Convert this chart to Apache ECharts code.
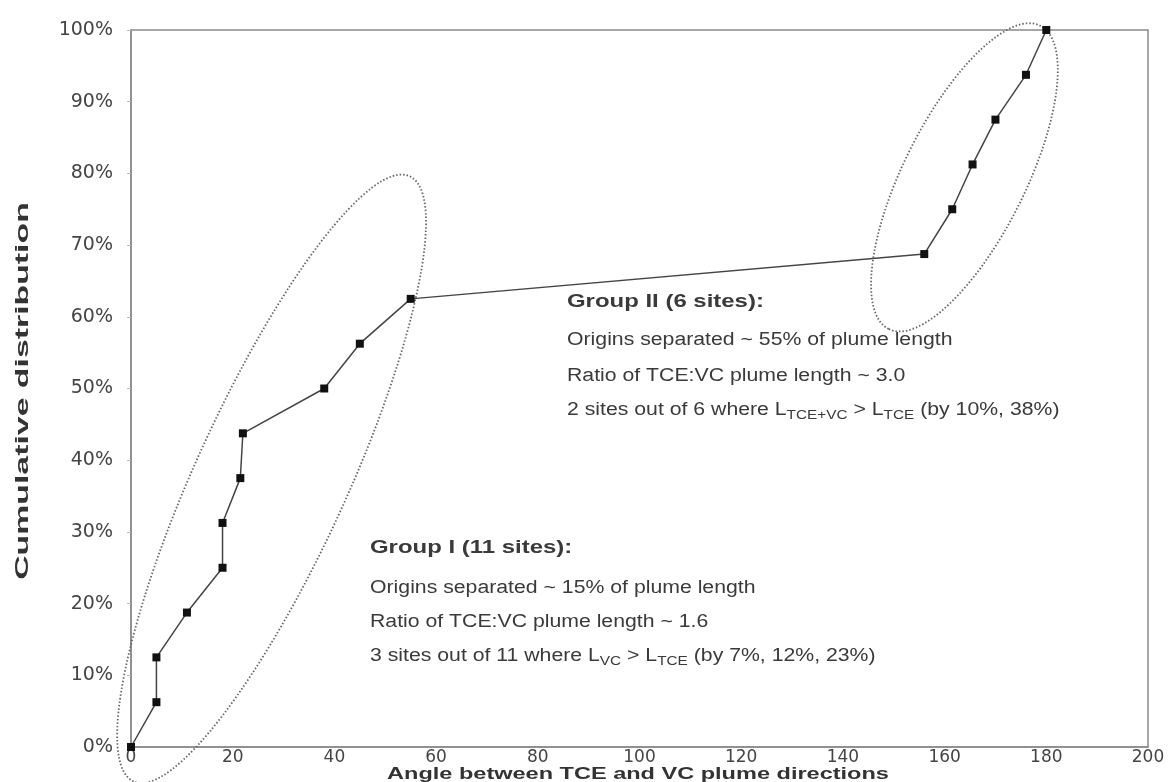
<!DOCTYPE html>
<html>
<head>
<meta charset="utf-8">
<script src="https://cdn.jsdelivr.net/npm/echarts@6/dist/echarts.min.js"></script>
<style>
html,body{margin:0;padding:0;background:#fff;}
#chart{width:1174px;height:782px;}
</style>
</head>
<body>
<div id="chart"></div>
<script>
// ---- data ----
const angles = [0, 5, 5, 11, 18, 18, 21.5, 22, 38, 45, 55, 156, 161.5, 165.5, 170, 176, 180];
const cumulative = [0, 6.25, 12.5, 18.75, 25, 31.25, 37.5, 43.75, 50, 56.25, 62.5, 68.75, 75, 81.25, 87.5, 93.75, 100];
const xTicks = [0, 20, 40, 60, 80, 100, 120, 140, 160, 180, 200];
const yTicks = [0, 10, 20, 30, 40, 50, 60, 70, 80, 90, 100];
// group ellipses: tip A (x,y), tip B (x,y) in data units
const groupITips = [0.5, -4.8, 54.8, 79.6];
const groupIITips = [149, 58.3, 178.8, 100.6];

// ---- annotation styling ----
const ellipseHalfWidth = { groupI: 76, groupII: 61 };

const points = angles.map((a, i) => [a, cumulative[i]]);

const chart = echarts.init(document.getElementById('chart'), null, { renderer: 'canvas' });

const baseFont = 'Liberation Sans, Arial, sans-serif';
const tickFont = 'DejaVu Sans, Liberation Sans, sans-serif';
const txtColor = '#3a3a3a';
const rich = {
  b: { fontSize: 18, fontFamily: baseFont, color: txtColor, lineHeight: 24 },
  s: { fontSize: 13, fontFamily: baseFont, color: txtColor, lineHeight: 13, padding: [11, 0, 0, 0] }
};
function line(x, y, text, bold) {
  return {
    type: 'text', x: x, y: y, silent: true, scaleX: bold ? 1.33 : 1.18, originX: 0, originY: 0,
    style: {
      text: text, rich: rich,
      font: (bold ? 'bold ' : '') + '18px ' + baseFont,
      fill: txtColor,
      textAlign: 'left', textVerticalAlign: 'middle'
    }
  };
}

chart.setOption({
  animation: false,
  backgroundColor: '#fff',
  grid: { left: 131, right: 26, top: 30, bottom: 35, show: true, borderColor: '#8a8a8a', borderWidth: 1.5, backgroundColor: 'transparent' },
  xAxis: {
    type: 'value', min: 0, max: 200, interval: 20,
    axisLine: { show: true, lineStyle: { color: '#8a8a8a', width: 1.5 } },
    axisTick: { show: false },
    splitLine: { show: false },
    axisLabel: { fontFamily: tickFont, fontSize: 17, color: '#444', margin: 2 }
  },
  yAxis: {
    type: 'value', min: 0, max: 100, interval: 10,
    axisLine: { show: true, lineStyle: { color: '#8a8a8a', width: 1.5 } },
    axisTick: { show: true, length: 4, lineStyle: { color: '#bbb' } },
    splitLine: { show: false },
    axisLabel: { fontFamily: tickFont, fontSize: 19, color: '#444', margin: 18, formatter: '{value}%' }
  },
  series: [
    {
      type: 'custom',
      silent: true,
      clip: false,
      z: 1,
      data: [
        groupITips.concat([ellipseHalfWidth.groupI]),
        groupIITips.concat([ellipseHalfWidth.groupII])
      ],
      encode: { x: [0, 2], y: [1, 3] },
      renderItem: function (params, api) {
        const p1 = api.coord([api.value(0), api.value(1)]);
        const p2 = api.coord([api.value(2), api.value(3)]);
        const cx = (p1[0] + p2[0]) / 2, cy = (p1[1] + p2[1]) / 2;
        const dx = p2[0] - p1[0], dy = p2[1] - p1[1];
        const a = Math.hypot(dx, dy) / 2;
        return {
          type: 'ellipse', x: cx, y: cy, rotation: Math.atan2(-dy, dx),
          shape: { cx: 0, cy: 0, rx: a, ry: api.value(4) },
          style: { fill: null, stroke: '#666', lineWidth: 1.8, lineDash: [1.5, 2] }
        };
      }
    },
    {
      type: 'line',
      data: points,
      z: 3,
      symbol: 'rect', symbolSize: 8,
      lineStyle: { color: '#444', width: 1.5 },
      itemStyle: { color: '#111' }
    }
  ],
  graphic: [
    // axis titles
    {
      type: 'text', x: 638, y: 775, silent: true, scaleX: 1.47,
      style: { text: 'Angle between TCE and VC plume directions', font: 'bold 16px ' + baseFont, fill: '#333', textAlign: 'center', textVerticalAlign: 'middle' }
    },
    {
      type: 'text', x: 23, y: 391, rotation: Math.PI / 2, silent: true, scaleX: 1.78,
      style: { text: 'Cumulative distribution', font: 'bold 19px ' + baseFont, fill: '#333', textAlign: 'center', textVerticalAlign: 'middle' }
    },
    // group annotations
    line(567, 302, 'Group II (6 sites):', true),
    line(567, 340, '{b|Origins separated ~ 55% of plume length}'),
    line(567, 376, '{b|Ratio of TCE:VC plume length ~ 3.0}'),
    line(567, 410, '{b|2 sites out of 6 where L}{s|TCE+VC}{b| > L}{s|TCE}{b| (by 10%, 38%)}'),
    line(370, 548, 'Group I (11 sites):', true),
    line(370, 588, '{b|Origins separated ~ 15% of plume length}'),
    line(370, 622, '{b|Ratio of TCE:VC plume length ~ 1.6}'),
    line(370, 656, '{b|3 sites out of 11 where L}{s|VC}{b| > L}{s|TCE}{b| (by 7%, 12%, 23%)}')
  ]
});
</script>
</body>
</html>
